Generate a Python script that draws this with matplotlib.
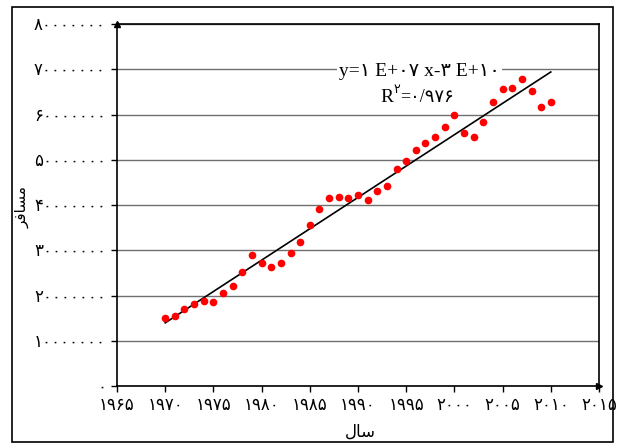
import numpy as np
import matplotlib
matplotlib.use("Agg")
import matplotlib.pyplot as plt
from matplotlib.patches import Rectangle
from matplotlib.ticker import FuncFormatter, MultipleLocator

# passengers per year (millions)
years = list(range(1970, 2011))
passengers_m = [15.1, 15.4, 17.0, 18.2, 18.8, 18.6, 20.5, 22.0, 25.2, 29.0,
                27.1, 26.4, 27.2, 29.5, 31.9, 35.6, 39.1, 41.6, 41.8, 41.5,
                42.2, 41.0, 43.0, 44.2, 47.9, 49.8, 52.1, 53.7, 55.1, 57.2,
                59.9, 55.9, 55.1, 58.3, 62.8, 65.6, 65.9, 67.9, 65.1, 61.7,
                62.8]
eq_text = "y=۱ E+۰۷ x-۳ E+۱۰"
r2_text = "=۰/۹۷۶"
x_label = "ﻝﺎﺳ"        # سال
y_label = "ﺮﻓﺎﺴﻣ"      # مسافر

fa_digits = str.maketrans("0123456789", "۰۱۲۳۴۵۶۷۸۹")


def fa(v, pos=None):
    return str(int(round(v))).translate(fa_digits)


plt.rcParams['font.family'] = ['Liberation Serif', 'DejaVu Sans']

x = np.array(years)
y = np.array(passengers_m) * 1e6

fig = plt.figure(figsize=(6.18, 4.43), dpi=100)
ax = fig.add_axes([117/618, 1-386/443, (599-117)/618, (386-24)/443])

ax.set_xlim(1965, 2015)
ax.set_ylim(0, 80e6)
ax.xaxis.set_major_locator(MultipleLocator(5))
ax.yaxis.set_major_locator(MultipleLocator(10e6))
ax.xaxis.set_major_formatter(FuncFormatter(fa))
ax.yaxis.set_major_formatter(FuncFormatter(fa))
ax.tick_params(direction='out', length=4, width=1, labelsize=12, pad=4)
ax.tick_params(axis='x', pad=5)
ax.grid(axis='y', color='#707070', lw=1)
ax.set_axisbelow(True)
for s in ax.spines.values():
    s.set_linewidth(1.2)

ax.plot(x, y, 'o', color='red', ms=4.5, mec='red', zorder=3)

k, b = np.polyfit(x, y, 1)
xl = np.array([years[0], years[-1]])
ax.plot(xl, k*xl + b, color='black', lw=1.2, zorder=2)

# axis arrows
ax.plot([0], [1], marker='^', color='black', ms=4, transform=ax.transAxes, clip_on=False)
ax.plot([1], [0], marker='>', color='black', ms=4, transform=ax.transAxes, clip_on=False)

ax.text(1996.4, 69.4e6, eq_text, fontsize=14, ha='center', va='center',
        bbox=dict(fc='white', ec='none', pad=1.5), zorder=4)
tr = ax.text(1992.3, 62.8e6, "R", fontsize=14, ha='left', va='baseline')
sup = ax.annotate("۲", xy=(1.0, 0.55), xycoords=tr, fontsize=9, ha='left', va='bottom')
ax.annotate(r2_text, xy=(1.0, 0.0), xycoords=(sup, tr), fontsize=13, ha='left', va='bottom')

fig.text(360/618, 1-432/443, x_label, fontsize=12, ha='center', va='center', family='DejaVu Sans')
fig.text(22/618, 1-207/443, y_label, fontsize=11, ha='center', va='center', rotation=90,
         family='DejaVu Sans')

fig.patches.append(Rectangle((12/618, 1/443), 601/618, 435/443, transform=fig.transFigure,
                             fill=False, ec='black', lw=1.2))

fig.savefig("out.png", dpi=100)
